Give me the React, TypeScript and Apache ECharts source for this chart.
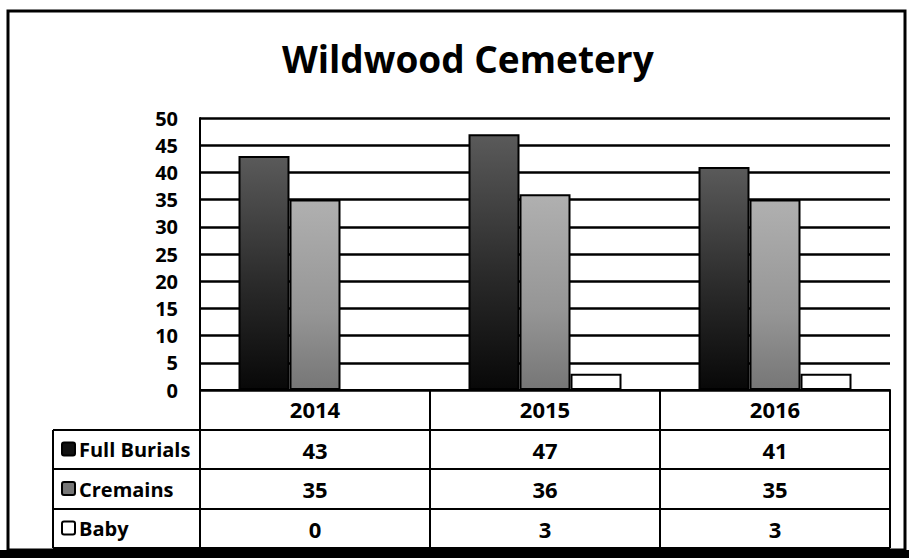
import React, { useEffect, useRef } from "react";
import * as echarts from "echarts";

const title = "Wildwood Cemetery";
const categories = ["2014", "2015", "2016"];
const seriesNames = ["Full Burials", "Cremains", "Baby"];
const fullBurials = [43, 47, 41];
const cremains = [35, 36, 35];
const baby = [0, 3, 3];
const yMin = 0;
const yMax = 50;
const yStep = 5;

const W = 909;
const H = 558;
const GRID_L = 200;
const GRID_R = 890;
const GRID_T = 118;
const GRID_B = 390;
const TABLE_L = 53;
const ROW_BOUNDS = [390, 430, 469, 509, 548];
const FONT = "'Open Sans', 'DejaVu Sans', sans-serif";

const fills = [
  new echarts.graphic.LinearGradient(0, 0, 0, 1, [
    { offset: 0, color: "#5a5a5a" },
    { offset: 0.55, color: "#2a2a2a" },
    { offset: 1, color: "#080808" },
  ]),
  new echarts.graphic.LinearGradient(0, 0, 0, 1, [
    { offset: 0, color: "#b0b0b0" },
    { offset: 0.6, color: "#959595" },
    { offset: 1, color: "#767676" },
  ]),
  "#ffffff",
];
const keyFills = ["#111111", "#777777", "#ffffff"];

export default function App() {
  const ref = useRef<HTMLDivElement>(null);
  useEffect(() => {
    if (!ref.current) return;
    const chart = echarts.init(ref.current, null, { renderer: "svg" });
    const values = [fullBurials, cremains, baby];
    const colW = (GRID_R - GRID_L) / categories.length;
    const line = (x1: number, y1: number, x2: number, y2: number, w = 2) => ({
      type: "line",
      silent: true,
      shape: { x1, y1, x2, y2 },
      style: { stroke: "#000", lineWidth: w },
      z: 10,
    });
    const graphics: any[] = [];
    graphics.push({
      type: "rect",
      shape: { x: 8, y: 11, width: 897, height: 539 },
      style: { fill: "none", stroke: "#000", lineWidth: 3 },
      z: 10,
    });
    graphics.push({
      type: "rect",
      shape: { x: 0, y: 550, width: W, height: H - 550 },
      style: { fill: "#000" },
      z: 10,
    });
    graphics.push(line(GRID_L, ROW_BOUNDS[0], GRID_R, ROW_BOUNDS[0]));
    for (let r = 1; r < ROW_BOUNDS.length; r++) {
      graphics.push(line(TABLE_L, ROW_BOUNDS[r], GRID_R, ROW_BOUNDS[r]));
    }
    graphics.push(line(TABLE_L, ROW_BOUNDS[1], TABLE_L, ROW_BOUNDS[4]));
    for (let c = 0; c <= categories.length; c++) {
      graphics.push(line(GRID_L + c * colW, ROW_BOUNDS[0], GRID_L + c * colW, ROW_BOUNDS[4]));
    }
    seriesNames.forEach((name, r) => {
      const yc = (ROW_BOUNDS[r + 1] + ROW_BOUNDS[r + 2]) / 2;
      graphics.push({
        type: "rect",
        shape: { x: 62, y: yc - 7, width: 13, height: 13, r: 2 },
        style: { fill: keyFills[r], stroke: "#000", lineWidth: 2 },
        z: 11,
      });
      graphics.push({
        type: "text",
        x: 79,
        y: yc,
        style: {
          text: name,
          fill: "#000",
          font: `bold 20px ${FONT}`,
          align: "left",
          verticalAlign: "middle",
        },
        z: 11,
      });
      values[r].forEach((v, c) => {
        graphics.push({
          type: "text",
          x: GRID_L + (c + 0.5) * colW,
          y: yc,
          style: {
            text: String(v),
            fill: "#000",
            font: `bold 22px ${FONT}`,
            align: "center",
            verticalAlign: "middle",
          },
          z: 11,
        });
      });
    });

    chart.setOption({
      animation: false,
      backgroundColor: "#fff",
      title: {
        text: title,
        left: 277,
        top: 33,
        textStyle: {
          fontFamily: FONT,
          fontWeight: "bold",
          fontSize: 37,
          lineHeight: 40,
          color: "#000",
        },
      },
      grid: {
        left: GRID_L,
        right: W - GRID_R,
        top: GRID_T,
        bottom: H - GRID_B,
        containLabel: false,
      },
      xAxis: {
        type: "category",
        data: categories,
        axisLine: { show: true, lineStyle: { color: "#000", width: 2 } },
        axisTick: { show: false },
        axisLabel: {
          color: "#000",
          fontFamily: FONT,
          fontWeight: "bold",
          fontSize: 22,
          margin: 8,
        },
        splitLine: { show: false },
      },
      yAxis: {
        type: "value",
        min: yMin,
        max: yMax,
        interval: yStep,
        axisLine: { show: true, lineStyle: { color: "#000", width: 2 } },
        axisTick: { show: false },
        axisLabel: {
          color: "#000",
          fontFamily: FONT,
          fontWeight: "bold",
          fontSize: 20,
          margin: 22,
        },
        splitLine: { show: true, lineStyle: { color: "#000", width: 2.5 } },
      },
      series: seriesNames.map((name, i) => ({
        name,
        type: "bar",
        data: values[i],
        barWidth: 51,
        barGap: "0%",
        itemStyle: {
          color: fills[i],
          borderColor: "#000",
          borderWidth: 2,
        },
        z: 3,
      })),
      graphic: graphics,
    });
    return () => chart.dispose();
  }, []);
  return (
    <div
      ref={ref}
      style={{ position: "fixed", left: 0, top: 0, width: W, height: H }}
    />
  );
}
